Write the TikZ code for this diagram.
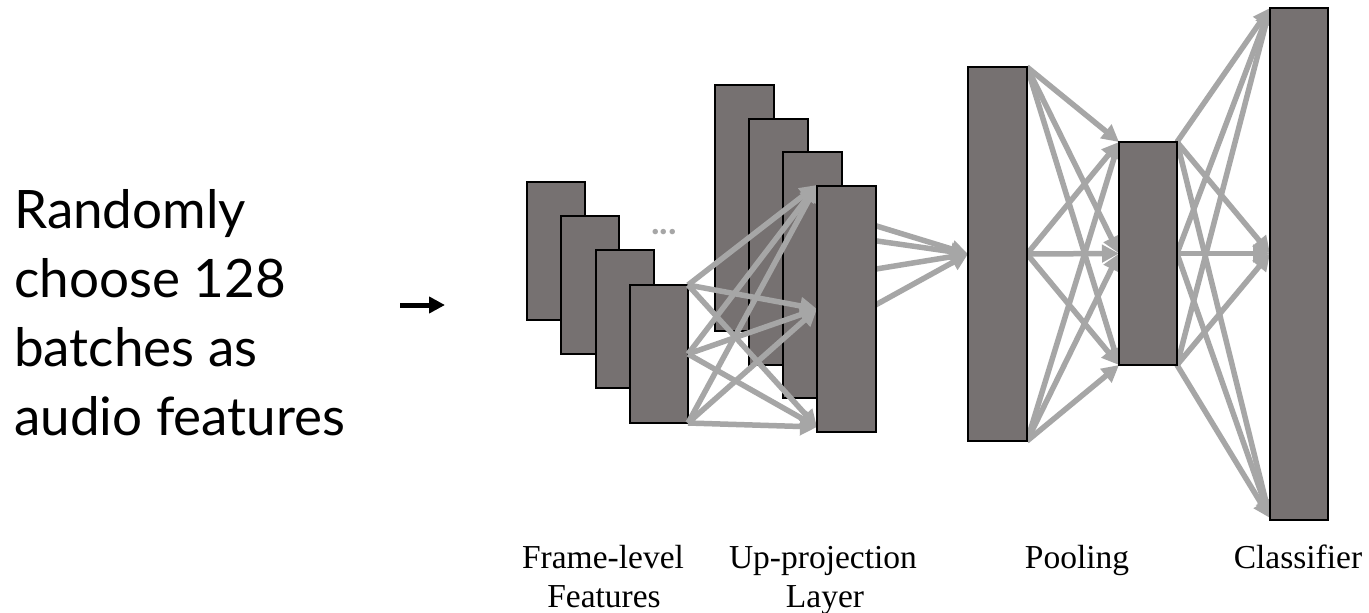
\documentclass[tikz,border=0pt]{standalone}
\usepackage{fontspec}
\setmainfont{Liberation Serif}
\newfontfamily\gillfont{Lato}
\usetikzlibrary{arrows.meta}
\definecolor{boxgray}{HTML}{767171}
\definecolor{arrgray}{HTML}{A6A6A6}
\pgfdeclarelayer{back}
\pgfdeclarelayer{mid}
\pgfsetlayers{back,mid,main}
\begin{document}
\begin{tikzpicture}[x=1pt,y=-1pt,
  layer/.style={draw=black, line width=2.6pt, fill=boxgray, inner sep=0pt, outer sep=0pt, anchor=north west},
  conn/.style={draw=arrgray, line width=5.5pt, -{Triangle[length=17pt,width=17pt]}},
  lbl/.style={font=\fontsize{33.5}{39}\selectfont, anchor=base, inner sep=0pt},
  side/.style={font=\gillfont\fontsize{53}{69}\selectfont, anchor=base west, inner sep=0pt}]

\useasboundingbox (0,0) rectangle (1369,613);

% left text
\node[side] (t1) at (14,228) {Randomly};
\node[side] (t2) at (14,297) {choose 128};
\node[side] (t3) at (14,366) {batches as};
\node[side] (t4) at (14,435) {audio features};

% small arrow
\coordinate (a0) at (400,305);
\coordinate (a1) at (445,305);
\draw[line width=5pt, -{Triangle[length=16pt,width=16pt]}] (a0) -- (a1);

% back layer: background, stacked frames and first up-projection rectangles
\begin{pgfonlayer}{back}
\fill[white] (0,0) rectangle (1369,613);
\node[layer, minimum width=58pt, minimum height=138pt] (f1) at (527,182) {};
\node[layer, minimum width=58pt, minimum height=138pt] (f2) at (561,216) {};
\node[layer, minimum width=58pt, minimum height=138pt] (f3) at (596,250) {};
\node[layer, minimum width=58pt, minimum height=138pt] (f4) at (630,285) {};
\node[text=arrgray, font=\gillfont\bfseries\fontsize{36}{36}\selectfont, inner sep=0pt] (dots) at (664,232) {...};
\node[layer, minimum width=59pt, minimum height=246pt] (u1) at (715,85) {};
\node[layer, minimum width=59pt, minimum height=246pt] (u2) at (749,119) {};
\node[layer, minimum width=59pt, minimum height=246pt] (u3) at (783,152) {};
\end{pgfonlayer}

% main layer rectangles
\node[layer, minimum width=59pt, minimum height=246pt] (u4) at (817,186) {};
\node[layer, minimum width=59pt, minimum height=374pt] (p1) at (968,67) {};
\node[layer, minimum width=58pt, minimum height=223pt] (p2) at (1119,142) {};
\node[layer, minimum width=58pt, minimum height=512pt] (c) at (1270,8) {};

% connectors
\begin{pgfonlayer}{mid}
\foreach \s in {north east, east, south east}{
  \draw[conn] (f4.\s) -- ([yshift=1pt]u4.north west);
  \draw[conn] (f4.\s) -- (u4.west);
  \draw[conn] (f4.\s) -- ([yshift=5pt]u4.south west);
}
\foreach \dy in {85,69,39,1}{
  \draw[conn] ([xshift=-6pt,yshift=\dy pt]u4.east) -- (p1.west);
}
\foreach \s in {north east, east, south east}{
  \draw[conn] (p1.\s) -- (p2.north west);
  \draw[conn] (p1.\s) -- (p2.west);
  \draw[conn] (p1.\s) -- (p2.south west);
}
\foreach \s in {north east, east, south east}{
  \draw[conn] (p2.\s) -- (c.north west);
  \draw[conn] (p2.\s) -- (c.west |- p2.east);
  \draw[conn] (p2.\s) -- ([yshift=2pt]c.south west);
}
\end{pgfonlayer}

% labels
\node[lbl] (l1a) at (603,568) {Frame-level};
\node[lbl] (l1b) at (604,607) {Features};
\node[lbl] (l2a) at (823,568) {Up-projection};
\node[lbl] (l2b) at (825,607) {Layer};
\node[lbl] (l3) at (1077,568) {Pooling};
\node[lbl] (l4) at (1298,568) {Classifier};
\end{tikzpicture}
\end{document}
